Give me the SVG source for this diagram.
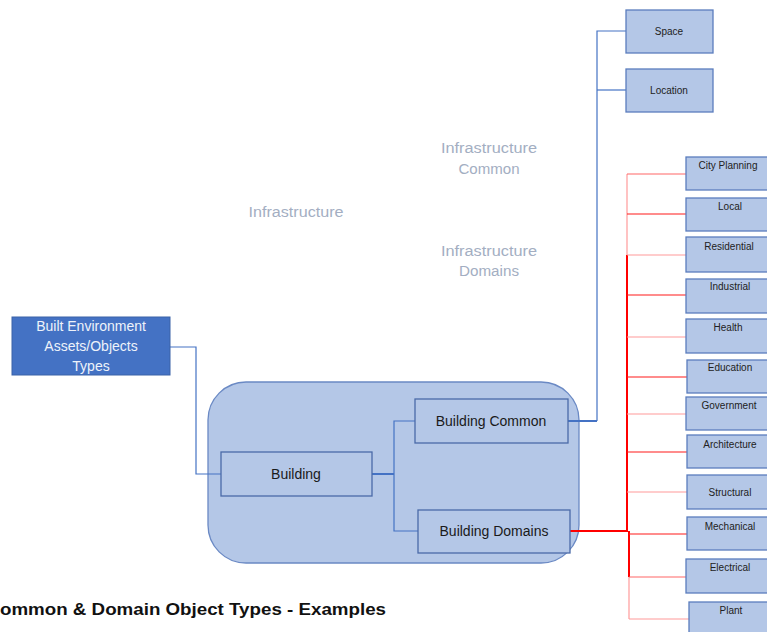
<svg xmlns="http://www.w3.org/2000/svg" width="767" height="632" viewBox="0 0 767 632">
  <style>
    .box { fill: #B4C7E7; stroke: #4A6AA8; stroke-width: 1.3; }
    .leaf { fill: #B4C7E7; stroke: #5B7DBE; stroke-width: 1.3; }
    .t14 { font-family: "Liberation Sans", Arial, sans-serif; font-size: 14px; fill: #1a1a1a; text-anchor: middle; }
    .t10 { font-family: "Liberation Sans", Arial, sans-serif; font-size: 10px; fill: #222; text-anchor: middle; }
    .faint { font-family: "Liberation Sans", Arial, sans-serif; font-size: 14px; fill: #A3AEC2; text-anchor: middle; }
    .blue { fill: none; stroke: #4472C4; stroke-width: 1.2; }
    .blue2 { fill: none; stroke: #4472C4; stroke-width: 2; }
    .red { fill: none; stroke: #FF1A1A; stroke-width: 1.2; }
    .redB { fill: none; stroke: #FF0000; stroke-width: 2; }
    .pink { fill: none; stroke: #FF9A9A; stroke-width: 1.2; }
    .rose { fill: none; stroke: #FF6666; stroke-width: 1.2; }
  </style>

  <!-- rounded frame around the building hierarchy -->
  <g id="building-group">
    <rect x="208" y="382" width="371" height="181" rx="38" ry="38" fill="#B4C7E7" stroke="#6A89C4" stroke-width="1.3"/>
  </g>

  <!-- connectors -->
  <g id="connectors">
    <!-- root to Building -->
    <polyline class="blue" points="170,347 196,347 196,474 221,474"/>
    <!-- Building to Common / Domains -->
    <line class="blue2" x1="372" y1="474" x2="394" y2="474"/>
    <polyline class="blue" points="415,421 394,421 394,531 418,531"/>
    <!-- Building Common to Space / Location -->
    <polyline class="blue2" points="568,421 597,421"/>
    <polyline class="blue" points="597,421 597,31 626,31"/>
    <line class="blue" x1="597" y1="90" x2="626" y2="90"/>
    <!-- Building Domains to domain leaves -->
    <line class="redB" x1="570" y1="531" x2="628" y2="531"/>
    <line class="pink" x1="627" y1="174" x2="627" y2="255"/>
    <line class="redB" x1="627" y1="255" x2="627" y2="531"/>
    <line class="redB" x1="629" y1="531" x2="629" y2="577"/>
    <line class="pink" x1="629" y1="577" x2="629" y2="619"/>
    <line class="rose" x1="627" y1="174" x2="686" y2="174"/>
    <line class="red" x1="627" y1="214" x2="686" y2="214"/>
    <line class="pink" x1="627" y1="255" x2="686" y2="255"/>
    <line class="red" x1="627" y1="295" x2="686" y2="295"/>
    <line class="pink" x1="627" y1="337" x2="686" y2="337"/>
    <line class="red" x1="627" y1="377" x2="687" y2="377"/>
    <line class="pink" x1="627" y1="414" x2="686" y2="414"/>
    <line class="red" x1="627" y1="452" x2="687" y2="452"/>
    <line class="pink" x1="627" y1="492" x2="687" y2="492"/>
    <line class="red" x1="629" y1="534" x2="687" y2="534"/>
    <line class="rose" x1="629" y1="577" x2="686" y2="577"/>
    <line class="pink" x1="629" y1="619" x2="689" y2="619"/>
  </g>

  <!-- faint group labels -->
  <g id="labels">
    <text class="faint" x="296" y="217" textLength="95" lengthAdjust="spacingAndGlyphs">Infrastructure</text>
    <text class="faint" x="489" y="153" textLength="96" lengthAdjust="spacingAndGlyphs">Infrastructure</text>
    <text class="faint" x="489" y="174" textLength="61" lengthAdjust="spacingAndGlyphs">Common</text>
    <text class="faint" x="489" y="256" textLength="96" lengthAdjust="spacingAndGlyphs">Infrastructure</text>
    <text class="faint" x="489" y="276" textLength="60" lengthAdjust="spacingAndGlyphs">Domains</text>
  </g>

  <g id="root">
    <rect x="12" y="317" width="158" height="58" fill="#4472C4" stroke="#3A62A8" stroke-width="1"/>
    <text class="t14" x="91" y="331" style="fill:#EEF2FA">Built Environment</text>
    <text class="t14" x="91" y="351" style="fill:#EEF2FA">Assets/Objects</text>
    <text class="t14" x="91" y="371" style="fill:#EEF2FA">Types</text>
  </g>

  <g id="building">
    <rect class="box" x="221" y="452" width="151" height="44"/>
    <text class="t14" x="296" y="479">Building</text>
  </g>
  <g id="building-common">
    <rect class="box" x="415" y="399" width="153" height="44"/>
    <text class="t14" x="491" y="426">Building Common</text>
  </g>
  <g id="building-domains">
    <rect class="box" x="418" y="510" width="152" height="43"/>
    <text class="t14" x="494" y="536">Building Domains</text>
  </g>

  <g id="space">
    <rect class="leaf" x="626" y="10" width="87" height="43"/>
    <text class="t10" x="669" y="35">Space</text>
  </g>
  <g id="location">
    <rect class="leaf" x="626" y="69" width="87" height="43"/>
    <text class="t10" x="669" y="94">Location</text>
  </g>

  <g id="city-planning">
    <rect class="leaf" x="686" y="157" width="84" height="33"/>
    <text class="t10" x="728" y="169">City Planning</text>
  </g>
  <g id="local">
    <rect class="leaf" x="686" y="198" width="84" height="33"/>
    <text class="t10" x="730" y="210">Local</text>
  </g>
  <g id="residential">
    <rect class="leaf" x="686" y="237" width="84" height="35"/>
    <text class="t10" x="729" y="250">Residential</text>
  </g>
  <g id="industrial">
    <rect class="leaf" x="686" y="279" width="84" height="34"/>
    <text class="t10" x="730" y="290">Industrial</text>
  </g>
  <g id="health">
    <rect class="leaf" x="686" y="319" width="84" height="34"/>
    <text class="t10" x="728" y="331">Health</text>
  </g>
  <g id="education">
    <rect class="leaf" x="687" y="360" width="84" height="33"/>
    <text class="t10" x="730" y="371">Education</text>
  </g>
  <g id="government">
    <rect class="leaf" x="686" y="397" width="84" height="33"/>
    <text class="t10" x="729" y="409">Government</text>
  </g>
  <g id="architecture">
    <rect class="leaf" x="687" y="435" width="84" height="33"/>
    <text class="t10" x="730" y="448">Architecture</text>
  </g>
  <g id="structural">
    <rect class="leaf" x="687" y="475" width="84" height="34"/>
    <text class="t10" x="730" y="496">Structural</text>
  </g>
  <g id="mechanical">
    <rect class="leaf" x="687" y="517" width="84" height="33"/>
    <text class="t10" x="730" y="530">Mechanical</text>
  </g>
  <g id="electrical">
    <rect class="leaf" x="686" y="559" width="84" height="34"/>
    <text class="t10" x="730" y="571">Electrical</text>
  </g>
  <g id="plant">
    <rect class="leaf" x="689" y="602" width="84" height="34"/>
    <text class="t10" x="731" y="614">Plant</text>
  </g>

  <g id="title">
    <text x="0" y="615" font-family="Liberation Sans, Arial, sans-serif" font-size="17" font-weight="bold" fill="#111" textLength="386" lengthAdjust="spacingAndGlyphs">ommon &amp; Domain Object Types - Examples</text>
  </g>
</svg>
